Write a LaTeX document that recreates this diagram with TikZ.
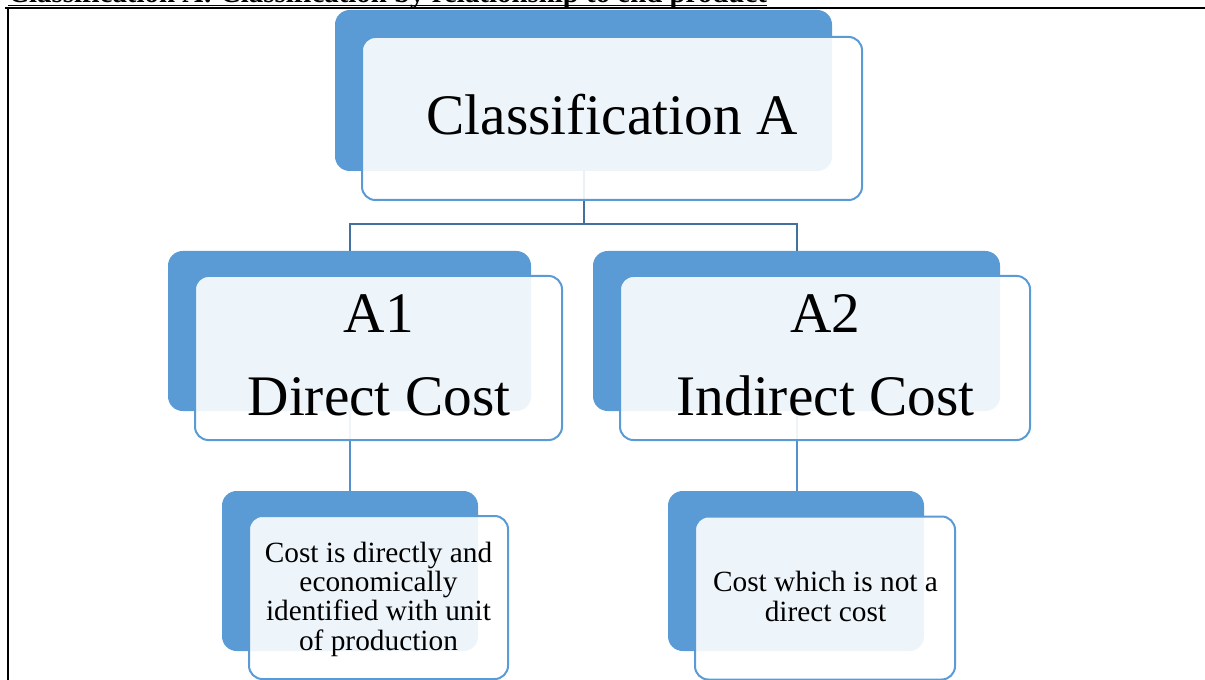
\documentclass[tikz,border=0pt]{standalone}
\usepackage{fontspec}
\setmainfont{Liberation Serif}
\definecolor{boxblue}{HTML}{5B9BD5}
\definecolor{linkdark}{HTML}{41719C}
\definecolor{linklight}{HTML}{5690CC}
\pgfdeclarelayer{bg}
\pgfsetlayers{bg,main}
\tikzset{
  backbox/.style={draw=none, fill=boxblue, rounded corners=11pt, inner sep=0pt},
  frontbox/.style={draw=boxblue, line width=1.5pt, fill=white, fill opacity=0.9,
    rounded corners=10pt, inner sep=0pt},
  bigtext/.style={inner sep=0pt, align=center, font=\fontsize{43}{62}\selectfont},
  smalltext/.style={inner sep=0pt, align=center, font=\fontsize{22}{22}\selectfont},
  toplink/.style={draw=linkdark, line width=1.5pt},
  sublink/.style={draw=linklight, line width=1.5pt},
  frame/.style={draw=black, line width=1.6pt}
}
\begin{document}
\begin{tikzpicture}[x=0.75pt, y=-0.75pt]
\useasboundingbox (0,0) rectangle (1205,680);

% heading above the table and the table frame
\node[anchor=base west, inner sep=0pt] (heading) at (8,3)
  {\resizebox{569pt}{!}{\bfseries Classification A: Classification by relationship to end product}};
\draw[black, line width=1pt] (8,5.5) coordinate (ulA) -- (767,5.5) coordinate (ulB);
\coordinate (frTL) at (8,8);
\coordinate (frTR) at (1210,8);
\coordinate (frBL) at (8,690);
\draw[frame] (frBL) -- (frTL) -- (frTR);
\draw[frame] (5,8) coordinate (frT0) -- (frTL);

% level 0
\node[backbox, minimum width=372.75pt, minimum height=120.75pt] (topback) at (583.5,90.5) {};
\node[frontbox, minimum width=375pt, minimum height=122.25pt] (topfront) at (612,118.5) {};
\node[bigtext, anchor=base] (toptext) at (612,135) {Classification A};

% level 1
\node[backbox, minimum width=272.25pt, minimum height=120pt] (aoneback) at (349.5,331) {};
\node[frontbox, minimum width=275.25pt, minimum height=123pt] (aonefront) at (378.5,358) {};
\node[bigtext] (aonetext) at (379,355.5) {A1\\Direct Cost};

\node[backbox, minimum width=305.25pt, minimum height=120pt] (atwoback) at (796.5,331) {};
\node[frontbox, minimum width=307.5pt, minimum height=123pt] (atwofront) at (825,358) {};
\node[bigtext] (atwotext) at (825.5,355.5) {A2\\Indirect Cost};

% level 2
\node[backbox, minimum width=192pt, minimum height=120pt] (lback) at (350,571) {};
\node[frontbox, minimum width=194.25pt, minimum height=122.25pt] (lfront) at (378.5,597.5) {};
\node[smalltext] (ltext) at (378.5,599)
  {Cost is directly and\\economically\\identified with unit\\of production};

\node[backbox, minimum width=192pt, minimum height=120pt] (rback) at (796,571) {};
\node[frontbox, minimum width=195pt, minimum height=122.25pt] (rfront) at (825,598) {};
\node[smalltext] (rtext) at (825.5,596.5) {Cost which is not a\\direct cost};

% connectors, kept beneath the boxes
\coordinate (split) at (584,224);
\begin{pgfonlayer}{bg}
  \draw[toplink] (topback.south) -- (topback.south |- split);
  \draw[toplink] (aoneback.north) |- (split) -| (atwoback.north);
  \draw[sublink] (aoneback.south) -- (aoneback.south |- lback.north);
  \draw[sublink] (atwoback.south) -- (atwoback.south |- rback.north);
\end{pgfonlayer}
\end{tikzpicture}
\end{document}
